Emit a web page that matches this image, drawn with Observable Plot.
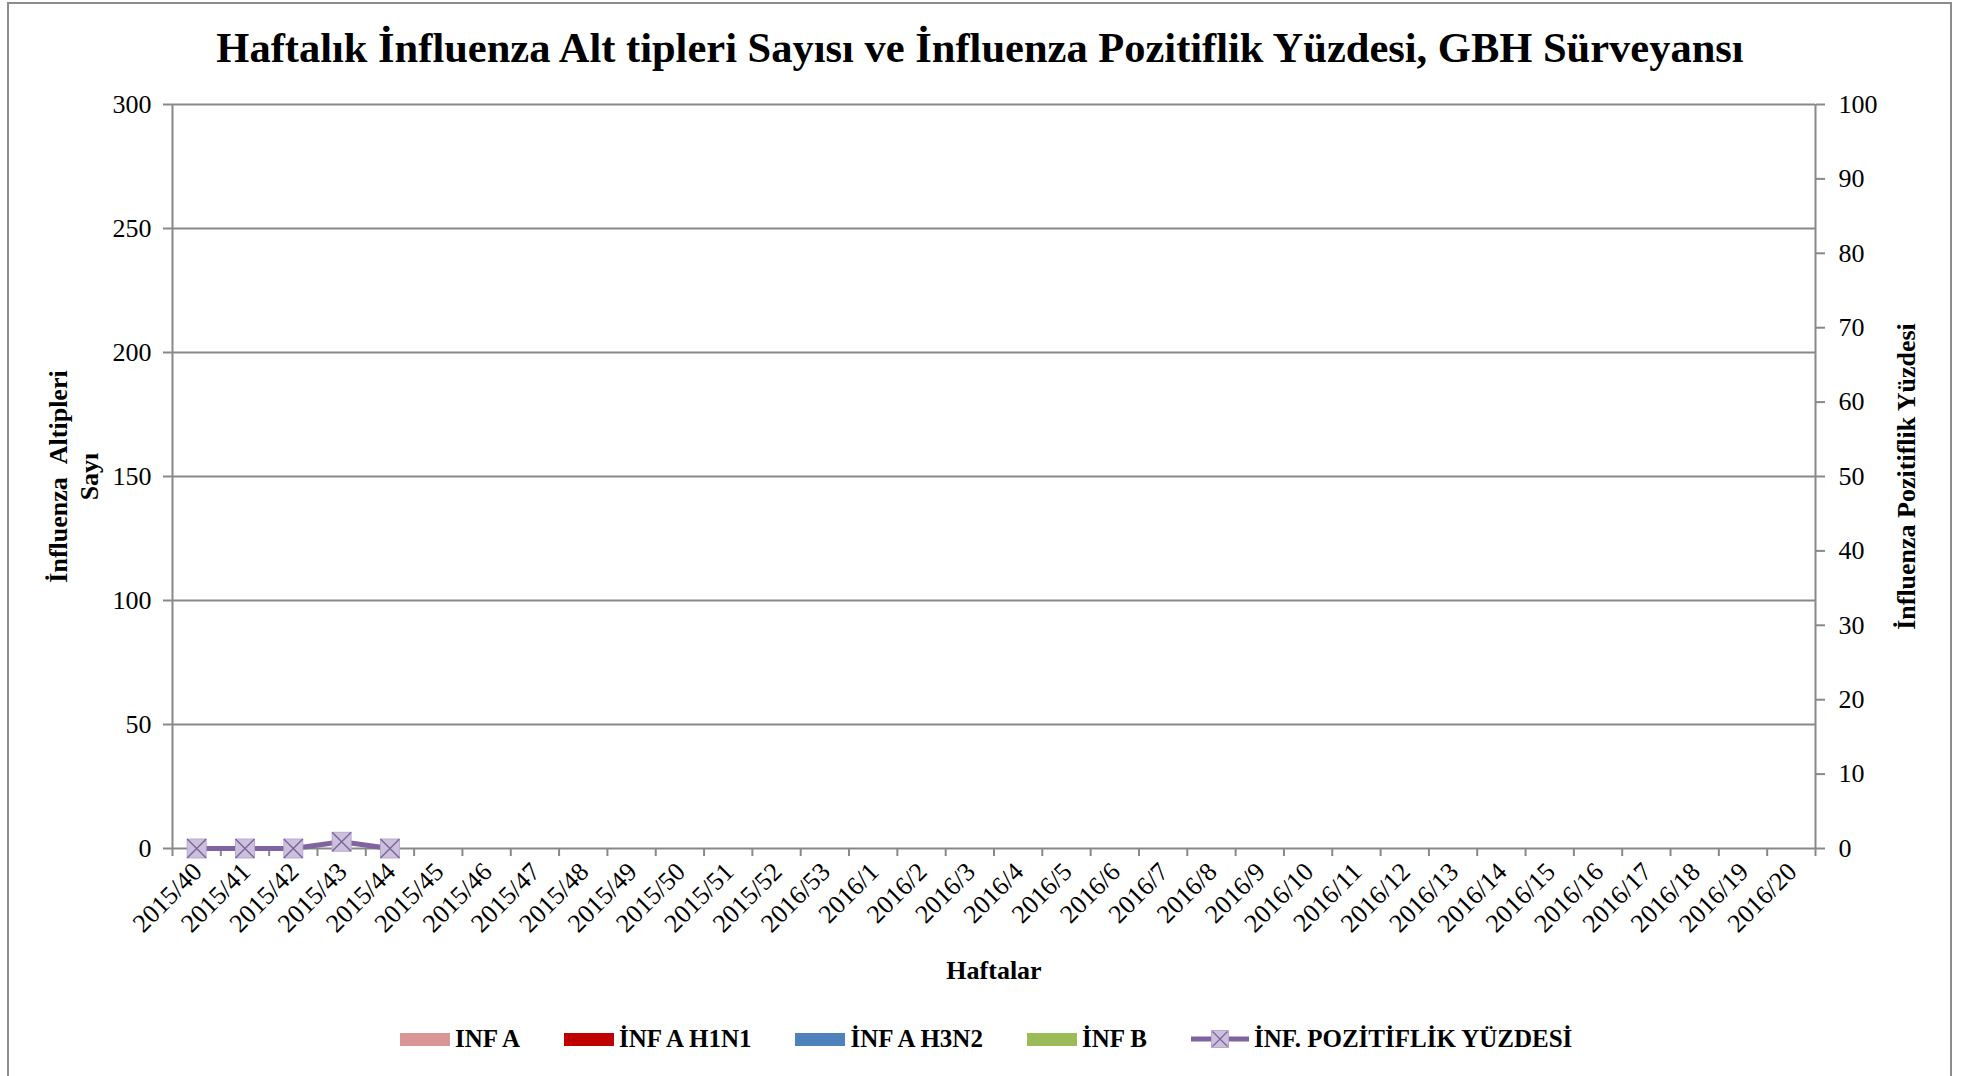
<!DOCTYPE html>
<html><head><meta charset="utf-8">
<script src="https://cdn.jsdelivr.net/npm/d3@7"></script>
<script src="https://cdn.jsdelivr.net/npm/@observablehq/plot@0.6"></script>
<style>
html,body{margin:0;padding:0;background:#fff}
body{width:1973px;height:1076px;overflow:hidden;position:relative;font-family:"Liberation Serif","Times New Roman",serif;color:#000}
#frame{position:absolute;left:7px;top:2px;width:1945px;height:1110px;border:2px solid #8c8c8c;box-sizing:border-box;pointer-events:none}
#title{position:relative;height:82px}
#title span{position:absolute;left:980px;top:27px;transform:translateX(-50%);font-weight:bold;font-size:42.5px;line-height:1;white-space:nowrap}
#chart svg{display:block}
#legend{position:relative;height:94px}
#legend .items{position:absolute;left:400px;top:57px;transform:translateY(-50%);display:flex;align-items:center;gap:44px}
#legend .item{display:flex;align-items:center;gap:5px;font-weight:bold;font-size:25px;white-space:nowrap}
#legend .sw{width:50px;height:13px;display:inline-block}
</style></head>
<body>
<div id="title"><span>Haftalık İnfluenza Alt tipleri Sayısı ve İnfluenza Pozitiflik Yüzdesi, GBH Sürveyansı</span></div>
<div id="chart"></div>
<div id="legend"><div class="items"></div></div>
<div id="frame"></div>
<script>
// ---- data ----
const weeks = ["2015/40","2015/41","2015/42","2015/43","2015/44","2015/45","2015/46","2015/47","2015/48","2015/49","2015/50","2015/51","2015/52","2016/53","2016/1","2016/2","2016/3","2016/4","2016/5","2016/6","2016/7","2016/8","2016/9","2016/10","2016/11","2016/12","2016/13","2016/14","2016/15","2016/16","2016/17","2016/18","2016/19","2016/20"];
// reported only for the first five weeks
const infA     = [0,0,0,0,0];
const infAH1N1 = [0,0,0,0,0];
const infAH3N2 = [0,0,0,0,0];
const infB     = [0,0,0,0,0];
const positivity = [0,0,0,0.9,0];
const leftTicks  = [0,50,100,150,200,250,300];
const rightTicks = [0,10,20,30,40,50,60,70,80,90,100];
const seriesNames  = ["INF A","İNF A H1N1","İNF A H3N2","İNF B"];
const seriesColors = ["#D99694","#C00000","#4F81BD","#9BBB59"];
const lineName = "İNF. POZİTİFLİK YÜZDESİ";
const lineColor = "#8064A2";
const markerFill = "#CCC1DA";

const RATIO = leftTicks[leftTicks.length-1] / rightTicks[rightTicks.length-1];
const seriesVals = [infA, infAH1N1, infAH3N2, infB];
const barRows = [];
seriesVals.forEach((vals,k)=>vals.forEach((v,i)=>barRows.push({i,k,v})));
const linePts = positivity.map((v,i)=>({i,v}));
const nK = seriesVals.length;
const grid = "#888888";

const chart = Plot.plot({
  width: 1973,
  height: 900,
  marginLeft: 172,
  marginRight: 158,
  marginTop: 22,
  marginBottom: 134,
  style: {fontFamily: "Liberation Serif, Times New Roman, serif", background: "#fff", color: "#000", overflow: "visible"},
  x: {domain: [0, weeks.length], axis: null},
  y: {domain: [leftTicks[0], leftTicks[leftTicks.length-1]], axis: null},
  marks: [
    Plot.ruleY(leftTicks.slice(1), {stroke: grid, strokeWidth: 2}),
    Plot.rectY(barRows, {
      x1: d => d.i + 0.15 + d.k * (0.7 / nK),
      x2: d => d.i + 0.15 + (d.k + 1) * (0.7 / nK),
      y1: 0, y2: d => d.v,
      fill: d => seriesColors[d.k]
    }),
    Plot.ruleX([0, weeks.length], {stroke: grid, strokeWidth: 2}),
    Plot.ruleY([0], {stroke: grid, strokeWidth: 2}),
    Plot.axisY({anchor: "left", ticks: leftTicks, tickSize: 9, tickPadding: 12, fontSize: 26, stroke: grid, strokeWidth: 2, fill: "#000", label: null}),
    Plot.axisY({anchor: "right", ticks: rightTicks.map(v => v * RATIO), tickFormat: d => Math.round(d / RATIO), tickSize: 9, tickPadding: 14, fontSize: 26, stroke: grid, strokeWidth: 2, fill: "#000", label: null}),
    Plot.axisX({ticks: d3.range(weeks.length + 1), tickSize: 8, tickFormat: () => "", stroke: grid, strokeWidth: 2, label: null}),
    Plot.axisX({ticks: weeks.map((_, i) => i + 0.5), tickSize: 0, tickPadding: 19, tickRotate: -45, tickFormat: d => weeks[Math.floor(d)], fontSize: 26, fill: "#000", label: null, dx: 1}),
    Plot.line(linePts, {x: d => d.i + 0.5, y: d => d.v * RATIO, stroke: lineColor, strokeWidth: 5}),
    Plot.dot(linePts, {x: d => d.i + 0.5, y: d => d.v * RATIO, symbol: "square", r: 10.7, fill: markerFill, stroke: "#B9A9D0", strokeWidth: 1}),
    Plot.dot(linePts, {x: d => d.i + 0.5, y: d => d.v * RATIO, symbol: "times", r: 8.7, stroke: lineColor, strokeWidth: 1.5}),
    Plot.text(["İnfluenza\u2002Altipleri\nSayı"], {frameAnchor: "left", dx: -100, rotate: -90, textAnchor: "middle", lineAnchor: "middle", lineHeight: 1.2, fontSize: 26, fontWeight: "bold", fill: "#000"}),
    Plot.text(["İnfluenza Pozitiflik Yüzdesi"], {frameAnchor: "right", dx: 91, rotate: -90, textAnchor: "middle", lineAnchor: "middle", fontSize: 26, fontWeight: "bold", fill: "#000"}),
    Plot.text(["Haftalar"], {frameAnchor: "bottom", dy: 122, textAnchor: "middle", lineAnchor: "middle", fontSize: 26, fontWeight: "bold", fill: "#000"})
  ]
});
document.getElementById("chart").appendChild(chart);

// legend
const items = document.querySelector("#legend .items");
seriesNames.forEach((name, k) => {
  const it = document.createElement("div");
  it.className = "item";
  it.innerHTML = `<span class="sw" style="background:${seriesColors[k]}"></span><span>${name}</span>`;
  items.appendChild(it);
});
const li = document.createElement("div");
li.className = "item";
li.innerHTML = `<svg width="58" height="20" viewBox="0 0 58 20"><line x1="0" y1="10" x2="58" y2="10" stroke="${lineColor}" stroke-width="5" stroke-linecap="round"/><rect x="20.5" y="1.5" width="17" height="17" fill="${markerFill}" stroke="#B9A9D0" stroke-width="1"/><path d="M21.5 2.5L36.5 17.5M36.5 2.5L21.5 17.5" stroke="${lineColor}" stroke-width="1.3"/></svg><span>${lineName}</span>`;
items.appendChild(li);
</script>
</body></html>
